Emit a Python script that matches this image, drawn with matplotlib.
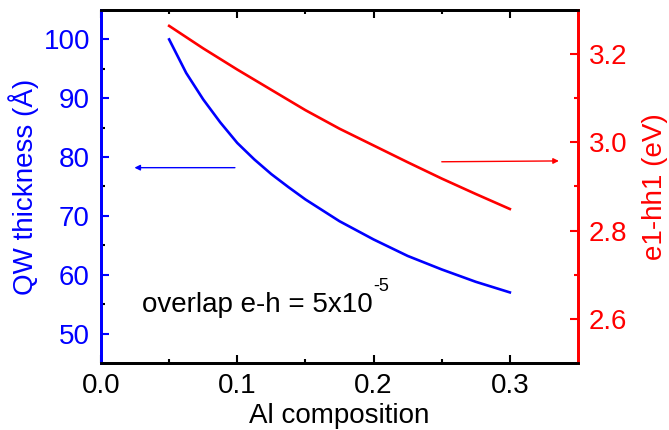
import matplotlib
matplotlib.use("Agg")
import matplotlib.pyplot as plt

plt.rcParams['font.family'] = ['Liberation Sans', 'DejaVu Sans']

# Al composition vs QW thickness (left) and e1-hh1 energy (right)
al_x = [0.05, 0.0625, 0.075, 0.0875, 0.1, 0.1125, 0.125, 0.1375, 0.15,
        0.175, 0.2, 0.225, 0.25, 0.275, 0.3]
thickness = [100.0, 94.3, 89.8, 85.9, 82.4, 79.6, 77.1, 74.9, 72.8,
             69.1, 66.0, 63.2, 60.9, 58.8, 57.0]
energy = [3.264, 3.2385, 3.213, 3.189, 3.165, 3.142, 3.119, 3.096, 3.073,
          3.031, 2.993, 2.955, 2.918, 2.883, 2.849]

x_ticks = [0.0, 0.1, 0.2, 0.3]
left_ticks = [50, 60, 70, 80, 90, 100]
right_ticks = [2.6, 2.8, 3.0, 3.2]

blue = '#0000ff'
red = '#ff0000'

fig = plt.figure(figsize=(6.69, 4.30), dpi=100)
ax = fig.add_axes([101 / 669, 1 - 363 / 430, 477 / 669, 353 / 430])
ax2 = ax.twinx()

ax.plot(al_x, thickness, color=blue, lw=1.9)
ax2.plot(al_x, energy, color=red, lw=1.9)

ax.set_xlim(0, 0.35)
ax.set_ylim(45, 105)
ax2.set_ylim(2.5, 3.3)

ax.set_xticks(x_ticks)
ax.set_xticklabels(['0.0', '0.1', '0.2', '0.3'])
ax.set_xticks([0.05, 0.15, 0.25], minor=True)
ax.set_yticks(left_ticks)
ax.set_yticks([55, 65, 75, 85, 95], minor=True)
ax2.set_yticks(right_ticks)
ax2.set_yticklabels(['2.6', '2.8', '3.0', '3.2'])
ax2.set_yticks([2.7, 2.9, 3.1], minor=True)

fs = 20
ax.tick_params(axis='both', which='both', direction='in', top=True, width=1.5,
               labelsize=fs)
ax.tick_params(which='major', length=6)
ax.tick_params(which='minor', length=3)
ax.tick_params(axis='x', pad=7)
ax.tick_params(axis='y', colors=blue, pad=8)
ax2.tick_params(axis='y', which='both', direction='in', colors=red, width=1.5,
                labelsize=fs, pad=8)
ax2.tick_params(which='major', length=6)
ax2.tick_params(which='minor', length=3)

for a in (ax, ax2):
    for s in a.spines.values():
        s.set_linewidth(2)
ax2.spines['left'].set_color(blue)
ax2.spines['right'].set_color(red)
ax.spines['left'].set_color(blue)
ax.spines['right'].set_color(red)

ax.set_xlabel('Al composition', fontsize=fs, labelpad=3)
ax.set_ylabel('QW thickness (Å)', fontsize=fs, color=blue, labelpad=3)
ax2.set_ylabel('e1-hh1 (eV)', fontsize=fs, color=red, labelpad=10)

ax.annotate('', xy=(0.0225, 78.2), xytext=(0.1003, 78.2),
            arrowprops=dict(arrowstyle='-|>', color=blue, lw=1, mutation_scale=8))
ax2.annotate('', xy=(0.338, 2.958), xytext=(0.248, 2.956),
             arrowprops=dict(arrowstyle='-|>', color=red, lw=1, mutation_scale=8))

# note with a plain-hyphen superscript
t = ax.text(0.03, 53.6, 'overlap e-h = 5x10', fontsize=fs, color='black',
            va='baseline')
ax.annotate('-5', xy=(1, 0), xycoords=t, xytext=(0.5, 20),
            textcoords='offset points', fontsize=13, va='baseline', ha='left')

fig.savefig('out.png', dpi=100)
